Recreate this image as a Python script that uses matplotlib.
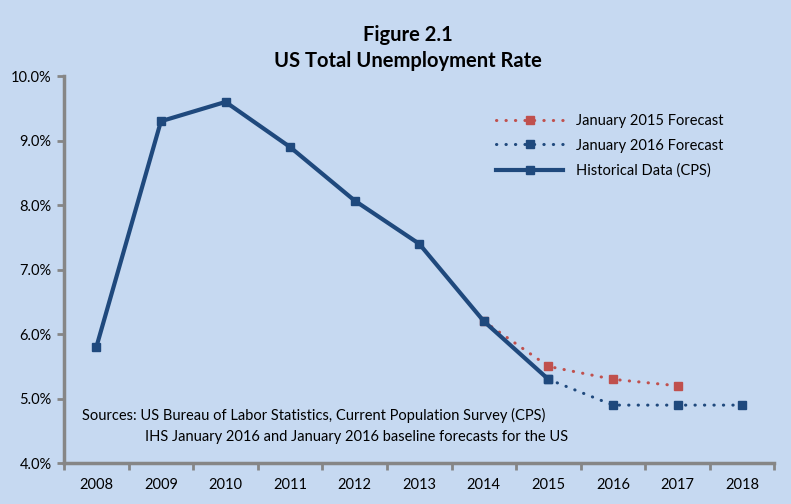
import matplotlib.pyplot as plt
from matplotlib.ticker import FuncFormatter

years = ["2008", "2009", "2010", "2011", "2012", "2013", "2014", "2015", "2016", "2017", "2018"]
hist_years = ["2008", "2009", "2010", "2011", "2012", "2013", "2014", "2015"]
hist_rate = [5.8, 9.3, 9.6, 8.9, 8.07, 7.4, 6.2, 5.3]
f2015_years = ["2014", "2015", "2016", "2017"]
f2015_rate = [6.2, 5.5, 5.3, 5.2]
f2016_years = ["2015", "2016", "2017", "2018"]
f2016_rate = [5.3, 4.9, 4.9, 4.9]

bg = "#C6D9F1"
navy = "#1F497D"
red = "#C0504D"
grey = "#868686"

plt.rcParams["font.family"] = ["Lato", "DejaVu Sans"]

fig = plt.figure(figsize=(7.91, 5.04), dpi=100, facecolor=bg)
ax = fig.add_axes([0.081, 0.081, 0.898, 0.768])
ax.set_facecolor(bg)

pos = {y: i for i, y in enumerate(years)}

ax.plot([pos[y] for y in f2015_years], f2015_rate, color=red, lw=2.2, ls=(0, (0.1, 3.0)),
        dash_capstyle="round", marker="s", ms=6, label="January 2015 Forecast")
ax.plot([pos[y] for y in f2016_years], f2016_rate, color=navy, lw=2.2, ls=(0, (0.1, 3.0)),
        dash_capstyle="round", marker="s", ms=6, label="January 2016 Forecast")
ax.plot([pos[y] for y in hist_years], hist_rate, color=navy, lw=3, marker="s", ms=6,
        label="Historical Data (CPS)")

ax.set_xlim(-0.5, len(years) - 0.5)
ax.set_ylim(4.0, 10.0)
ax.set_yticks([4, 5, 6, 7, 8, 9, 10])
ax.yaxis.set_major_formatter(FuncFormatter(lambda v, p: "%.1f%%" % v))

ax.set_xticks(range(len(years)))
ax.set_xticklabels(years)
ax.set_xticks([i - 0.5 for i in range(len(years) + 1)], minor=True)
ax.tick_params(axis="x", which="major", length=0, pad=11, labelsize=10.5, colors="black")
ax.tick_params(axis="x", which="minor", length=5, width=2, color=grey, direction="out")
ax.tick_params(axis="y", length=5, width=2, color=grey, labelsize=10.5, pad=4)

for s in ["top", "right"]:
    ax.spines[s].set_visible(False)
for s in ["left", "bottom"]:
    ax.spines[s].set_color(grey)
    ax.spines[s].set_linewidth(2.5)

fig.text(0.516, 0.931, "Figure 2.1", ha="center", va="center", fontsize=14.5, fontweight="bold")
fig.text(0.516, 0.879, "US Total Unemployment Rate", ha="center", va="center", fontsize=14.5,
         fontweight="bold")

ax.text(-0.22, 4.74, "Sources: US Bureau of Labor Statistics, Current Population Survey (CPS)",
        fontsize=10.5, va="center", ha="left")
ax.text(0.76, 4.40, "IHS January 2016 and January 2016 baseline forecasts for the US",
        fontsize=10.5, va="center", ha="left")

leg = ax.legend(loc="upper left", bbox_to_anchor=(0.59, 0.937), frameon=False, fontsize=10.5,
                handlelength=4.6, handletextpad=0.85, labelspacing=0.75)

plt.savefig("out.png", dpi=100, facecolor=bg)
